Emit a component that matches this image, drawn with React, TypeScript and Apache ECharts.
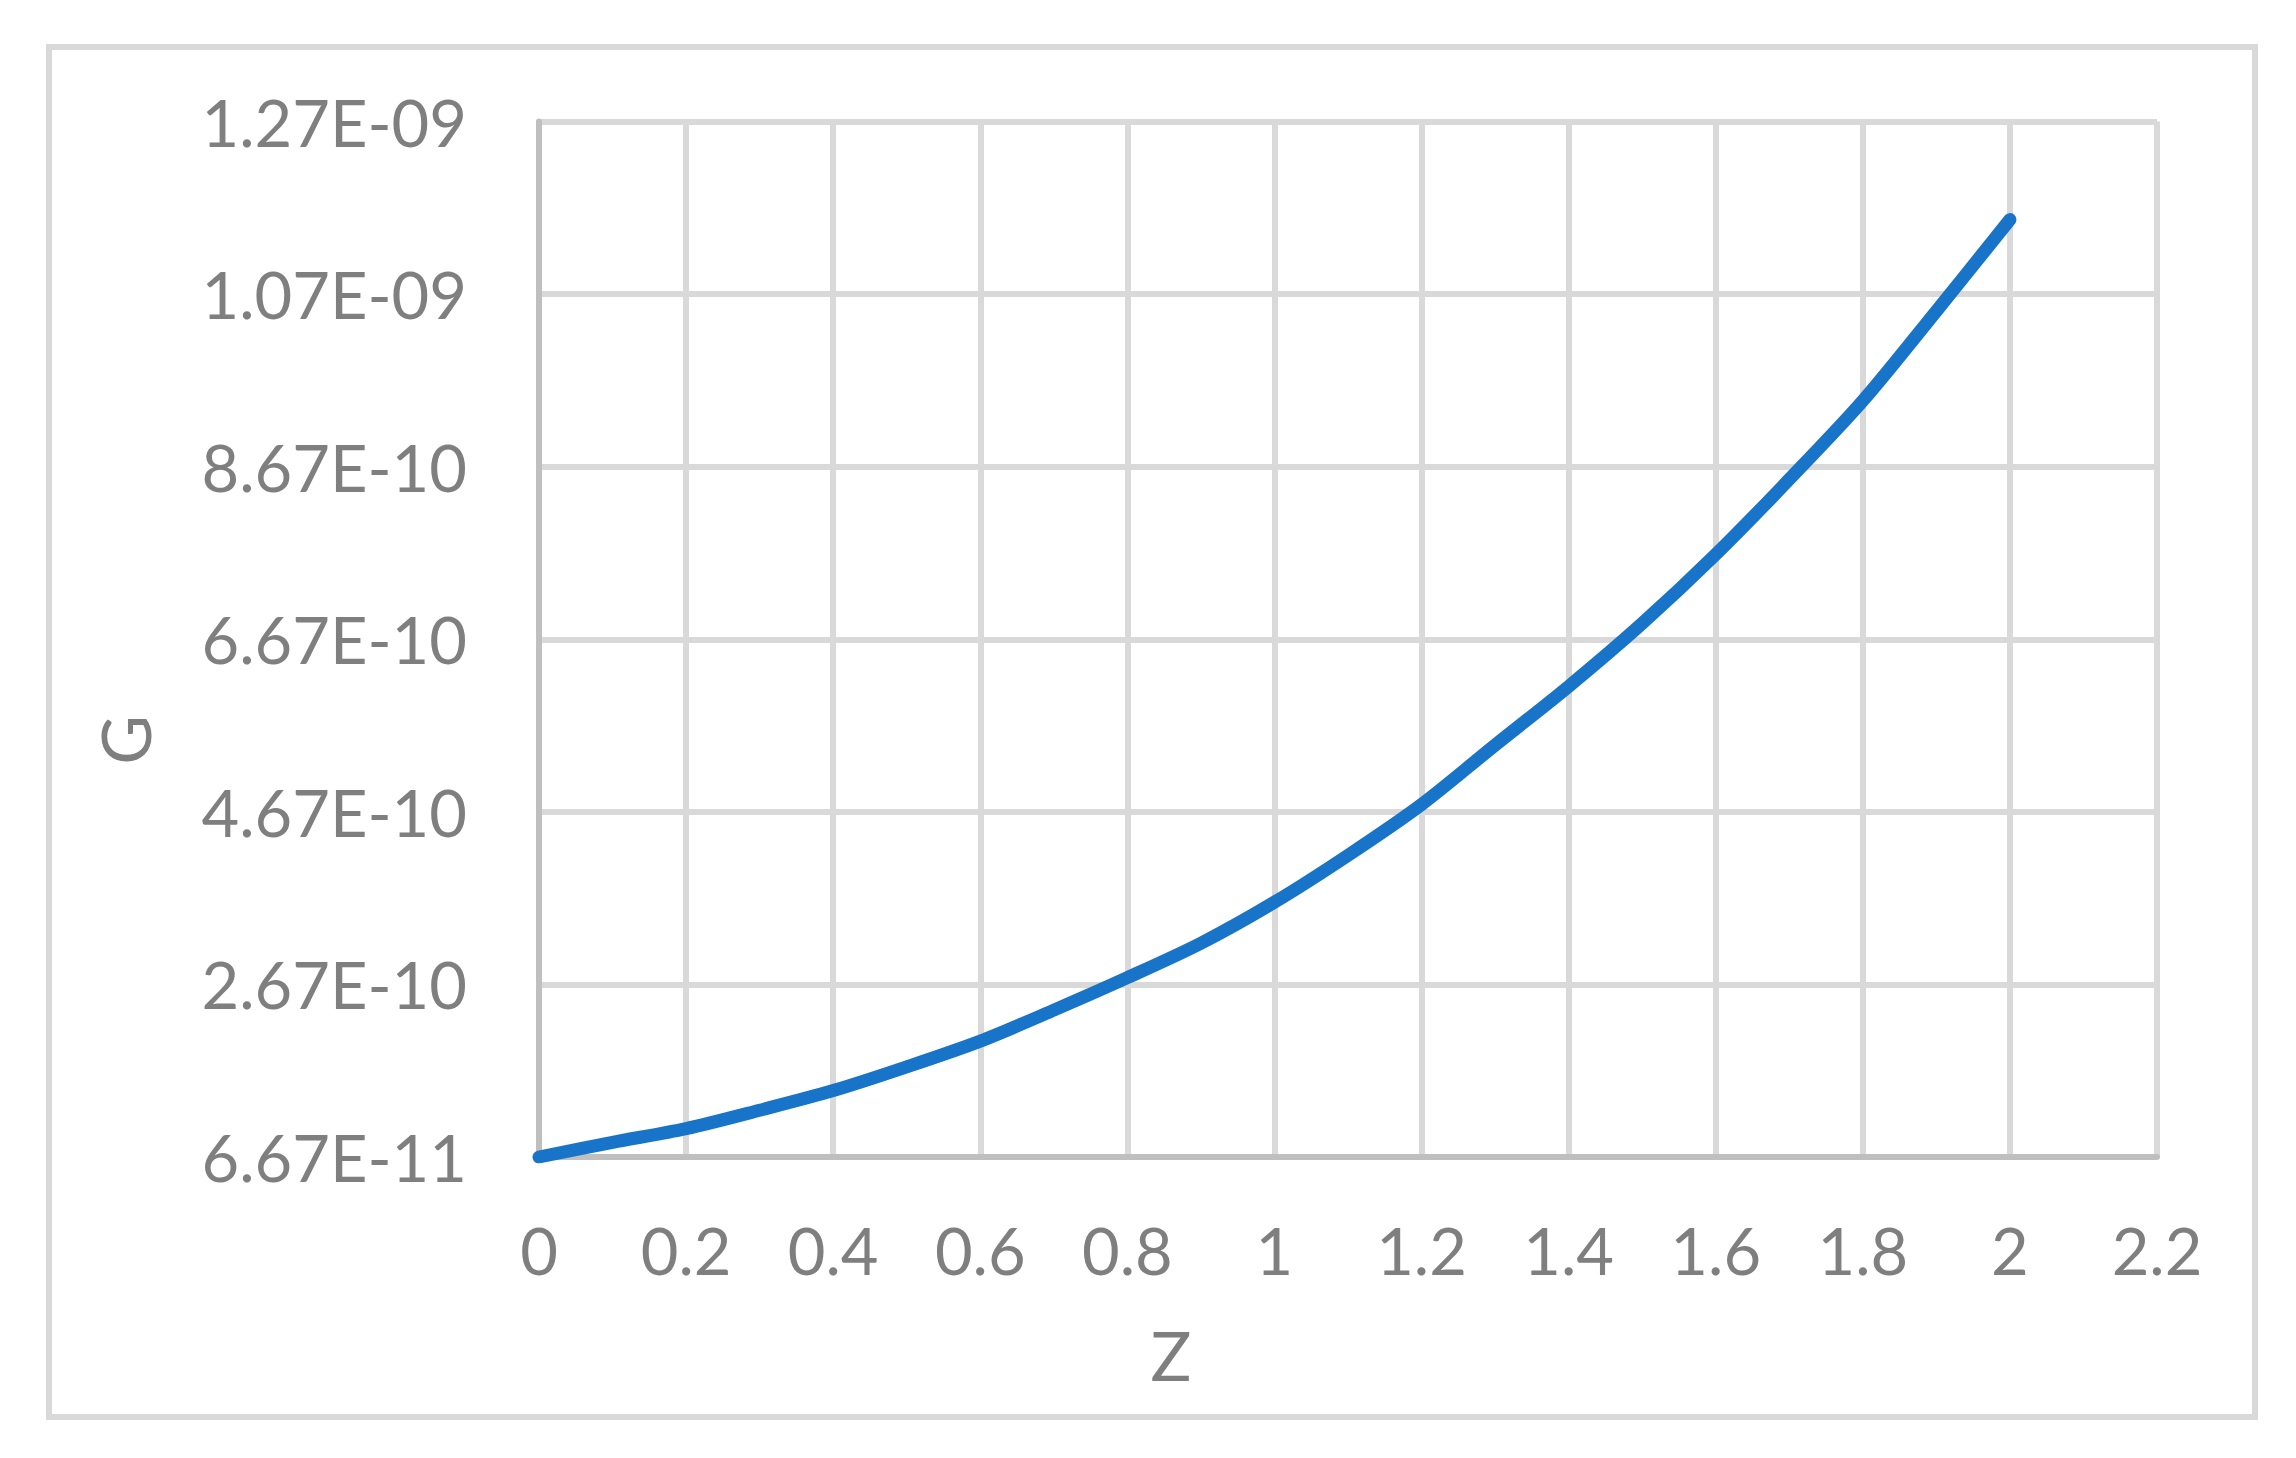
import React, { useEffect, useRef } from "react";
import * as echarts from "echarts";

// Data
const zValues = [
  0, 0.1, 0.2, 0.3, 0.4, 0.5, 0.6, 0.7, 0.8, 0.9, 1.0, 1.1, 1.2, 1.3, 1.4, 1.5,
  1.6, 1.7, 1.8, 1.9, 2.0,
];
const gValues = [
  6.67e-11, 8.37e-11, 9.96e-11, 1.209e-10, 1.437e-10, 1.712e-10, 2.01e-10,
  2.369e-10, 2.745e-10, 3.144e-10, 3.62e-10, 4.163e-10, 4.752e-10, 5.44e-10,
  6.12e-10, 6.85e-10, 7.65e-10, 8.52e-10, 9.43e-10, 1.047e-9, 1.153e-9,
];
// Y axis starts at G0 and steps by 2E-10
const G0 = 6.67e-11;
const yStep = 2e-10;
const ySteps = 6;
const xMin = 0;
const xMax = 2.2;
const xStep = 0.2;
const xTitle = "Z";
const yTitle = "G";

function fmtExp(v: number): string {
  const s = v.toExponential(2); // e.g. 1.27e-9
  const m = s.match(/^(-?[\d.]+)e([+-])(\d+)$/);
  if (!m) return s;
  const exp = m[3].length < 2 ? "0" + m[3] : m[3];
  return `${m[1]}E${m[2]}${exp}`;
}

export default function App() {
  const ref = useRef<HTMLDivElement>(null);
  useEffect(() => {
    document.body.style.margin = "0";
    if (!ref.current) return;
    const chart = echarts.init(ref.current, undefined, { renderer: "svg" });
    const font = "Lato";
    const textColor = "#7f7f7f";
    const data = zValues.map((z, i) => [z, gValues[i] - G0]);
    chart.setOption({
      animation: false,
      backgroundColor: "#ffffff",
      grid: { left: 539, right: 139, top: 121.5, bottom: 301, containLabel: false },
      xAxis: {
        type: "value",
        min: xMin,
        max: xMax,
        interval: xStep,
        axisLine: { show: true, onZero: false, lineStyle: { color: "#bfbfbf", width: 6 } },
        axisTick: { show: false },
        splitLine: { show: true, lineStyle: { color: "#d9d9d9", width: 6 } },
        axisLabel: {
          color: textColor,
          fontFamily: font,
          fontSize: 65,
          margin: 60,
          formatter: (v: number) => String(+v.toFixed(1)),
        },
      },
      yAxis: {
        type: "value",
        min: 0,
        max: yStep * ySteps,
        interval: yStep,
        axisLine: { show: true, lineStyle: { color: "#bfbfbf", width: 6 } },
        axisTick: { show: false },
        splitLine: { show: true, lineStyle: { color: "#d9d9d9", width: 6 } },
        axisLabel: {
          color: textColor,
          fontFamily: font,
          fontSize: 65,
          margin: 72,
          formatter: (v: number) => fmtExp(v + G0),
        },
      },
      series: [
        {
          type: "line",
          data,
          smooth: 0.3,
          showSymbol: false,
          symbol: "none",
          lineStyle: { color: "#1874C8", width: 13, cap: "round", join: "round" },
          z: 5,
        },
      ],
      graphic: [
        {
          type: "rect",
          shape: { x: 49, y: 47, width: 2206, height: 1370 },
          style: { fill: "none", stroke: "#d9d9d9", lineWidth: 6 },
          silent: true,
        },
        {
          type: "text",
          x: 1171,
          y: 1354,
          style: {
            text: xTitle,
            fill: textColor,
            font: `68px ${font}`,
            align: "center",
            verticalAlign: "middle",
          },
        },
        {
          type: "text",
          x: 124,
          y: 740,
          rotation: Math.PI / 2,
          style: {
            text: yTitle,
            fill: textColor,
            font: `68px ${font}`,
            align: "center",
            verticalAlign: "middle",
          },
        },
      ],
    });
    return () => chart.dispose();
  }, []);
  return <div ref={ref} style={{ width: 2296, height: 1458 }} />;
}
